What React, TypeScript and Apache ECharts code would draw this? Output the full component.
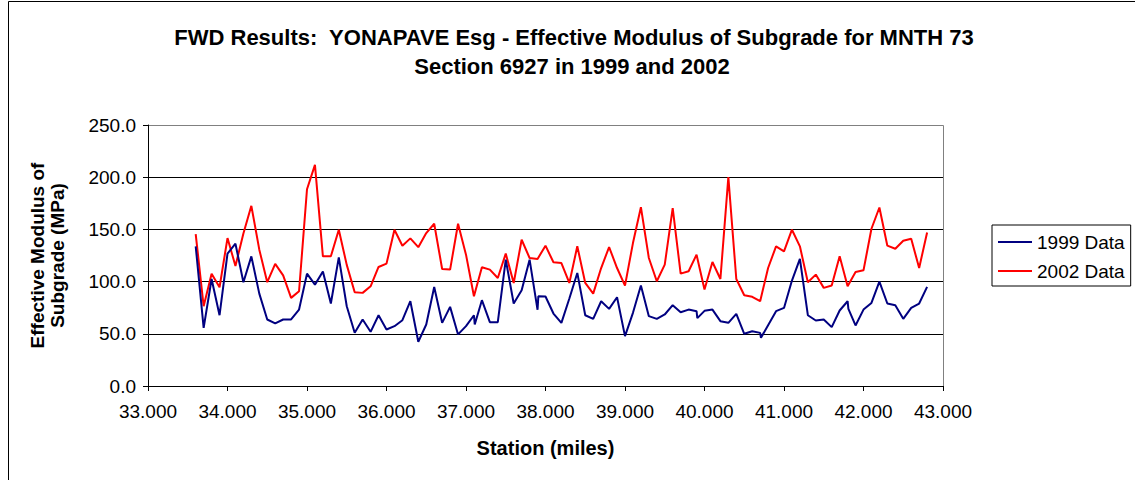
import React, { useEffect, useRef } from "react";
import * as echarts from "echarts";

const TITLE_LINE1 = "FWD Results:  YONAPAVE Esg - Effective Modulus of Subgrade for MNTH 73";
const TITLE_LINE2 = "Section 6927 in 1999 and 2002";
const Y_NAME = "Effective Modulus of\nSubgrade (MPa)";
const X_NAME = "Station (miles)";
const SERIES_NAMES = ["1999 Data", "2002 Data"];

const stations1999 = [
  33.6, 33.7, 33.8, 33.9,
  34.0, 34.1, 34.2, 34.3, 34.4, 34.5, 34.6, 34.7, 34.8, 34.9,
  35.0, 35.1, 35.2, 35.3, 35.4, 35.5, 35.6, 35.7, 35.8, 35.9,
  36.0, 36.1, 36.2, 36.3, 36.4, 36.5, 36.6, 36.7, 36.8, 36.9,
  37.0, 37.1, 37.11, 37.2, 37.3, 37.4, 37.5, 37.6, 37.7, 37.8, 37.9, 37.91,
  38.0, 38.1, 38.2, 38.3, 38.4, 38.5, 38.6, 38.7, 38.8, 38.9,
  39.0, 39.1, 39.2, 39.3, 39.4, 39.5, 39.6, 39.7, 39.8, 39.9, 39.91,
  40.0, 40.1, 40.2, 40.3, 40.4, 40.5, 40.6, 40.7, 40.71, 40.8, 40.9,
  41.0, 41.1, 41.2, 41.3, 41.4, 41.5, 41.6, 41.7, 41.8, 41.81, 41.9,
  42.0, 42.1, 42.2, 42.3, 42.4, 42.5, 42.6, 42.7, 42.8,
];
const values1999 = [
  133.8, 55.7, 102.5, 67.8,
  126.8, 136.3, 99.4, 124.2, 88.5, 63.7, 59.9, 63.7, 63.7, 73.2,
  107.6, 97.1, 109.6, 79.0, 123.2, 76.4, 51.0, 63.7, 51.9, 67.8,
  54.1, 57.3, 63.0, 81.2, 42.4, 58.9, 94.9, 60.5, 75.8, 49.4,
  57.3, 67.8, 58.9, 82.2, 61.1, 61.1, 121.0, 79.0, 91.7, 121.0, 73.0, 86.0,
  85.7, 69.4, 60.5, 83.8, 108.3, 67.8, 64.3, 81.2, 73.9, 85.0,
  47.8, 70.1, 96.2, 66.9, 64.3, 68.5, 77.4, 70.7, 73.2, 71.7, 65.0,
  72.0, 73.2, 62.1, 60.5, 69.1, 50.0, 52.5, 50.9, 46.2, 58.3, 71.7,
  74.8, 101.0, 121.7, 67.8, 62.7, 63.7, 56.4, 72.3, 81.2, 73.9, 58.0,
  73.2, 79.6, 100.0, 79.0, 77.4, 64.3, 74.8, 79.0, 94.9,
];

const stations2002 = [
  33.6, 33.7, 33.8, 33.9,
  34.0, 34.1, 34.2, 34.3, 34.4, 34.5, 34.6, 34.7, 34.8, 34.9,
  35.0, 35.1, 35.2, 35.3, 35.4, 35.5, 35.6, 35.7, 35.8, 35.9,
  36.0, 36.1, 36.2, 36.3, 36.4, 36.5, 36.6, 36.7, 36.8, 36.9,
  37.0, 37.1, 37.2, 37.3, 37.4, 37.5, 37.6, 37.7, 37.8, 37.9,
  38.0, 38.1, 38.2, 38.3, 38.4, 38.5, 38.6, 38.7, 38.8, 38.9,
  39.0, 39.1, 39.2, 39.3, 39.4, 39.5, 39.6, 39.7, 39.8, 39.9,
  40.0, 40.1, 40.2, 40.3, 40.4, 40.5, 40.6, 40.7, 40.8, 40.9,
  41.0, 41.1, 41.2, 41.3, 41.4, 41.5, 41.6, 41.7, 41.8, 41.9,
  42.0, 42.1, 42.2, 42.3, 42.4, 42.5, 42.6, 42.7, 42.8,
];
const values2002 = [
  145.5, 76.4, 107.6, 94.6,
  141.7, 115.0, 146.0, 172.6, 130.6, 99.4, 117.0, 106.0, 84.4, 90.8,
  188.5, 211.8, 124.2, 124.2, 149.7, 116.0, 89.8, 89.2, 95.5, 114.0,
  117.2, 149.7, 134.4, 141.4, 133.0, 146.5, 155.4, 112.1, 111.5, 155.4,
  125.8, 86.0, 113.7, 111.5, 103.5, 126.8, 98.7, 140.1, 122.6, 121.7,
  134.4, 118.5, 117.8, 98.7, 133.8, 98.7, 88.5, 113.0, 133.1, 113.0,
  96.2, 136.9, 171.3, 122.6, 100.3, 116.2, 170.4, 107.6, 109.9, 125.8,
  92.4, 118.8, 102.5, 200.0, 102.5, 86.9, 85.4, 81.2, 113.0, 133.8,
  129.0, 149.7, 133.8, 99.4, 106.7, 94.0, 96.2, 124.2, 95.5, 109.2,
  110.8, 150.6, 171.0, 134.4, 131.5, 139.2, 141.1, 113.0, 147.1,
];

const X_MIN = 33;
const X_MAX = 43;
const X_STEP = 1;
const Y_MIN = 0;
const Y_MAX = 250;
const Y_STEP = 50;

const FONT = "'Liberation Sans', Arial, sans-serif";

export default function App() {
  const ref = useRef<HTMLDivElement>(null);

  useEffect(() => {
    if (!ref.current) return;
    const chart = echarts.init(ref.current, null, { renderer: "svg" });
    const data1999 = stations1999.map((s, i) => [s, values1999[i]]);
    const data2002 = stations2002.map((s, i) => [s, values2002[i]]);

    chart.setOption({
      animation: false,
      backgroundColor: "#ffffff",
      textStyle: { fontFamily: FONT },
      graphic: [
        {
          type: "rect",
          shape: { x: 8.5, y: 1.5, width: 1140, height: 490 },
          style: { fill: "none", stroke: "#000", lineWidth: 1 },
          silent: true,
          z: 0,
        },
        {
          type: "rect",
          shape: { x: 148.5, y: 125.5, width: 795, height: 261 },
          style: { fill: "none", stroke: "#808080", lineWidth: 1 },
          silent: true,
          z: 0,
        },
        {
          type: "text",
          x: 574,
          y: 37,
          style: {
            text: TITLE_LINE1,
            font: `bold 22px ${FONT}`,
            fill: "#000",
            align: "center",
            verticalAlign: "middle",
          },
        },
        {
          type: "text",
          x: 572,
          y: 66,
          style: {
            text: TITLE_LINE2,
            font: `bold 22px ${FONT}`,
            fill: "#000",
            align: "center",
            verticalAlign: "middle",
          },
        },
      ],
      legend: {
        orient: "vertical",
        left: 992,
        top: 225,
        data: SERIES_NAMES,
        icon: "rect",
        itemWidth: 34,
        itemHeight: 2,
        itemGap: 9,
        borderColor: "#000",
        borderWidth: 1,
        padding: [7, 6, 5, 6],
        textStyle: { fontSize: 19, color: "#000", fontFamily: FONT, lineHeight: 20 },
      },
      grid: { left: 148, top: 125, width: 795, height: 261, containLabel: false },
      xAxis: {
        type: "value",
        min: X_MIN,
        max: X_MAX,
        interval: X_STEP,
        name: X_NAME,
        nameLocation: "middle",
        nameGap: 52,
        nameTextStyle: { fontSize: 20, fontWeight: "bold", color: "#000", fontFamily: FONT },
        axisLine: { show: true, lineStyle: { color: "#000", width: 1 } },
        axisTick: { show: true, length: 5, lineStyle: { color: "#000" } },
        axisLabel: {
          color: "#000",
          fontSize: 19,
          margin: 16,
          formatter: (v: number) => v.toFixed(3),
        },
        splitLine: { show: false },
      },
      yAxis: {
        type: "value",
        min: Y_MIN,
        max: Y_MAX,
        interval: Y_STEP,
        name: Y_NAME,
        nameLocation: "middle",
        nameGap: 81,
        nameRotate: 90,
        nameTextStyle: {
          fontSize: 19,
          fontWeight: "bold",
          color: "#000",
          fontFamily: FONT,
          lineHeight: 20,
        },
        axisLine: { show: true, lineStyle: { color: "#000", width: 1 } },
        axisTick: { show: true, length: 5, lineStyle: { color: "#000" } },
        axisLabel: {
          color: "#000",
          fontSize: 19,
          margin: 12,
          formatter: (v: number) => v.toFixed(1),
        },
        splitLine: {
          show: true,
          lineStyle: {
            color: ["#000", "#000", "#000", "#000", "#000", "#808080"],
            width: 1,
          },
        },
      },
      series: [
        {
          name: SERIES_NAMES[0],
          type: "line",
          data: data1999,
          showSymbol: false,
          symbol: "none",
          itemStyle: { color: "#000080" },
          lineStyle: { color: "#000080", width: 2 },
          z: 3,
        },
        {
          name: SERIES_NAMES[1],
          type: "line",
          data: data2002,
          showSymbol: false,
          symbol: "none",
          itemStyle: { color: "#ff0000" },
          lineStyle: { color: "#ff0000", width: 2 },
          z: 2,
        },
      ],
    });

    return () => chart.dispose();
  }, []);

  return (
    <div
      ref={ref}
      style={{ position: "absolute", left: 0, top: 0, width: 1135, height: 480 }}
    />
  );
}
